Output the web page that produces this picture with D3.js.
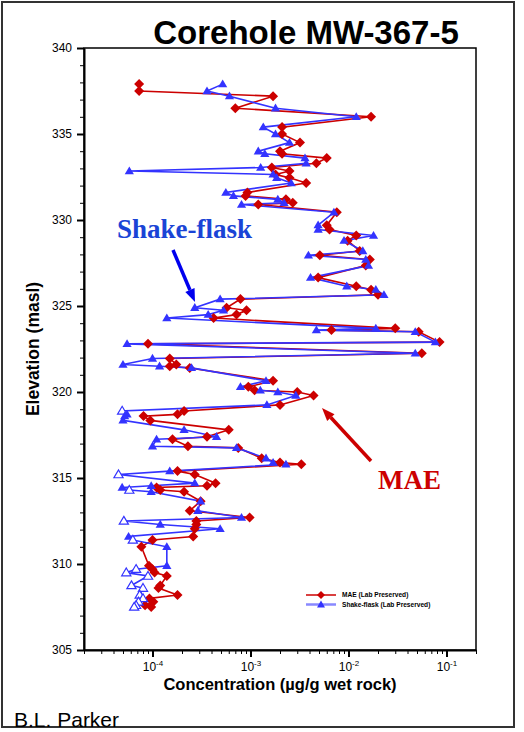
<!DOCTYPE html>
<html>
<head>
<meta charset="utf-8">
<script src="https://cdn.jsdelivr.net/npm/d3@7"></script>
<style>
  body { margin: 0; background: #fff; }
  svg { display: block; }
</style>
</head>
<body>
<div id="chart"></div>
<script>
// sample elevations (masl), top of core to bottom
const elevation = [
  337.9, 337.5, 337.2, 336.5, 336.0, 335.4, 335.0, 334.5, 334.0, 333.85,
  333.6, 333.3, 333.05, 332.85, 332.65, 332.45, 332.15, 331.6, 331.4, 331.2,
  331.0, 330.9, 330.45, 329.7, 329.45, 329.1, 328.8, 328.2, 327.95, 327.7,
  327.35, 326.65, 326.15, 325.95, 325.65, 325.4, 324.9, 324.75, 324.5, 324.3,
  323.7, 323.6, 323.5, 322.9, 322.8, 322.25, 321.95, 321.6, 321.5, 321.4,
  320.65, 320.3, 320.1, 320.0, 319.8, 319.25, 318.9, 318.7, 318.6, 318.35,
  317.8, 317.4, 317.25, 316.85, 316.75, 316.15, 315.9, 315.8, 315.4, 315.2,
  314.7, 314.55, 314.45, 314.3, 314.2, 313.65, 313.1, 312.7, 312.5, 312.3,
  312.05, 311.6, 311.4, 311.0, 309.9, 309.7, 309.5, 309.3, 308.75, 308.6,
  308.2, 308.0, 307.8, 307.6, 307.5
];

// MAE (Lab Preserved), ug/g wet rock
const mae = [
  7.3e-5, 7.3e-5, 1.7e-3, 7.0e-4, 1.7e-2, 2.1e-3, 2.1e-3, 3.2e-3, 2.0e-3, 2.1e-3,
  6.0e-3, 4.7e-3, 1.65e-3, 2.5e-3, 1.8e-3, 2.5e-3, 3.7e-3, 9.3e-4, 8.9e-4, 2.3e-3,
  2.7e-3, 1.2e-3, 7.6e-3, 6.0e-3, 6.4e-3, 1.2e-2, 9.8e-3, 1.3e-2, 5.1e-3, 1.65e-2,
  1.5e-2, 4.9e-3, 1.2e-2, 1.7e-2, 2.0e-2, 7.9e-4, 5.7e-4, 9.1e-4, 7.2e-4, 4.2e-4,
  3.0e-2, 6.7e-3, 5.2e-2, 8.5e-2, 9.0e-5, 5.6e-2, 1.5e-4, 1.75e-4, 1.5e-4, 2.4e-4,
  1.7e-3, 9.5e-4, 1.1e-3, 3.0e-3, 4.4e-3, 2.0e-3, 2.1e-4, 1.8e-4, 8.1e-5, 9.5e-5,
  6.0e-4, 3.6e-4, 1.6e-4, 2.3e-4, 7.5e-4, 1.3e-3, 2.0e-3, 3.3e-3, 1.8e-4, 2.7e-4,
  4.4e-4, 3.6e-4, 1.1e-4, 1.2e-4, 2.1e-4, 3.1e-4, 2.4e-4, 9.8e-4, 2.8e-4, 2.8e-4,
  2.7e-4, 2.6e-4, 1.0e-4, 7.7e-5, 9.2e-5, 1.0e-4, 1.05e-4, 1.4e-4, 1.2e-4, 1.15e-4,
  1.8e-4, 9.3e-5, 1.02e-4, 8.4e-5, 9.7e-5
];

// Shake-flask (Lab Preserved), ug/g wet rock
const shakeFlask = [
  5.2e-4, 3.6e-4, 6.1e-4, 1.8e-3, 1.2e-2, 1.35e-3, 1.8e-3, 2.5e-3, 1.2e-3, 1.4e-3,
  3.6e-3, 3.7e-3, 1.27e-3, 5.8e-5, 1.7e-3, 1.85e-3, 2.6e-3, 5.6e-4, 6.7e-4, 1.9e-3,
  2.2e-3, 8.1e-4, 7.1e-3, 4.9e-3, 4.9e-3, 1.8e-2, 9.0e-3, 1.4e-2, 3.9e-3, 1.5e-2,
  1.6e-2, 4.1e-3, 9.6e-3, 1.9e-2, 2.3e-2, 4.9e-4, 2.7e-4, 5.3e-4, 3.7e-4, 1.4e-4,
  1.9e-2, 4.7e-3, 4.8e-2, 7.7e-2, 5.5e-5, 4.8e-2, 1.0e-4, 5.0e-5, 1.18e-4, 2.5e-4,
  1.44e-3, 7.9e-4, 1.26e-3, 1.9e-3, 2.9e-3, 1.47e-3, 4.9e-5, 5.5e-5, 5.2e-5, 5.0e-5,
  2.1e-4, 4.5e-4, 1.1e-4, 1.0e-4, 7.2e-4, 1.44e-3, 1.7e-3, 2.3e-3, 1.5e-4, 4.5e-5,
  2.7e-4, 9.7e-5, 4.9e-5, 5.8e-5, 9.7e-5, 3.1e-4, 2.9e-4, 8.1e-4, 5.1e-5, 1.2e-4,
  4.9e-4, 5.7e-5, 6.3e-5, 1.4e-4, 1.4e-4, 6.8e-5, 5.4e-5, 9.0e-5, 6.1e-5, 8.0e-5,
  7.4e-5, 8.0e-5, 7.2e-5, 6.8e-5, 6.5e-5
];

// 1 = drawn as open triangle (below detection)
const shakeFlaskND = [
  0,0,0,0,0,0,0,0,0,0, 0,0,0,0,0,0,0,0,0,0,
  0,0,0,0,0,0,0,0,0,0, 0,0,0,0,0,0,0,0,0,0,
  0,0,0,0,0,0,0,0,0,0, 0,0,0,0,0,0,1,0,0,0,
  0,0,0,0,0,0,0,0,0,1, 0,0,0,1,0,0,0,0,1,0,
  0,0,1,0,0,1,1,1,1,1, 1,1,1,1,1
];

const yMajorTicks = [305, 310, 315, 320, 325, 330, 335, 340];
const xMajorTicks = [1e-4, 1e-3, 1e-2, 1e-1];
const xMajorExp = ["-4", "-3", "-2", "-1"];

const seriesNames = ["MAE (Lab Preserved)", "Shake-flask (Lab Preserved)"];

const width = 524, height = 732;
const plot = { left: 84, right: 476, top: 48, bottom: 650 };
const redC = "#cc0000", blueC = "#3333ff";
const sans = "'Liberation Sans', Arial, sans-serif";
const serif = "'Liberation Serif', 'Times New Roman', serif";

const svg = d3.select("#chart").append("svg")
  .attr("width", width)
  .attr("height", height);

// outer frame
svg.append("rect")
  .attr("x", 2).attr("y", 2)
  .attr("width", 512).attr("height", 725)
  .attr("fill", "none").attr("stroke", "#333").attr("stroke-width", 2);

// scales
const x = d3.scaleLog().domain([2e-5, 0.2]).range([plot.left, plot.right]);
const y = d3.scaleLinear().domain([305, 340]).range([plot.bottom, plot.top]);

// plot frame
svg.append("rect")
  .attr("x", plot.left).attr("y", plot.top)
  .attr("width", plot.right - plot.left).attr("height", plot.bottom - plot.top)
  .attr("fill", "none").attr("stroke", "#000").attr("stroke-width", 1.5);

// x minor ticks
const xMinor = svg.append("g")
  .attr("transform", "translate(0," + plot.bottom + ")")
  .call(d3.axisBottom(x).tickValues(x.ticks()).tickSize(4).tickSizeOuter(0).tickFormat(""));
xMinor.select(".domain").remove();

// x major ticks
const xMajor = svg.append("g")
  .attr("transform", "translate(0," + plot.bottom + ")")
  .call(d3.axisBottom(x).tickValues(xMajorTicks).tickSize(7).tickSizeOuter(0).tickFormat(""));
xMajor.select(".domain").attr("stroke-width", 2);
xMajor.selectAll(".tick line").attr("stroke-width", 2);
xMajor.selectAll(".tick").each(function(d, i) {
  const t = d3.select(this).append("text")
    .attr("y", 21)
    .attr("fill", "#000")
    .attr("text-anchor", "middle")
    .style("font-family", sans);
  t.append("tspan").style("font-size", "12px").text("10");
  t.append("tspan").attr("dy", -5).style("font-size", "8px").text(xMajorExp[i]);
});

// y minor ticks
const yMinor = svg.append("g")
  .attr("transform", "translate(" + plot.left + ",0)")
  .call(d3.axisLeft(y).tickValues(d3.range(305, 341, 1)).tickSize(4).tickSizeOuter(0).tickFormat(""));
yMinor.select(".domain").remove();

// y major ticks
const yMajor = svg.append("g")
  .attr("transform", "translate(" + plot.left + ",0)")
  .call(d3.axisLeft(y).tickValues(yMajorTicks).tickSize(7).tickPadding(5).tickSizeOuter(0));
yMajor.select(".domain").attr("stroke-width", 2);
yMajor.selectAll(".tick line").attr("stroke-width", 2);
yMajor.selectAll(".tick text")
  .style("font-family", sans).style("font-size", "12px").attr("fill", "#000");

// data rows
const rows = elevation.map((e, i) => ({ e: e, mae: mae[i], sf: shakeFlask[i], nd: shakeFlaskND[i] }));

const diamond = "M0,-5L5,0L0,5L-5,0Z";
const triangle = "M0,-4.6L4.6,3.2L-4.6,3.2Z";

// MAE
const maeLine = d3.line().x(d => x(d.mae)).y(d => y(d.e));
svg.append("path")
  .datum(rows)
  .attr("d", maeLine)
  .attr("fill", "none")
  .attr("stroke", redC)
  .attr("stroke-width", 1.6);

// Shake-flask
const sfLine = d3.line().x(d => x(d.sf)).y(d => y(d.e));
svg.append("path")
  .datum(rows)
  .attr("d", sfLine)
  .attr("fill", "none")
  .attr("stroke", blueC)
  .attr("stroke-width", 1.6);

svg.append("g")
  .selectAll("path")
  .data(rows)
  .enter()
  .append("path")
  .attr("d", diamond)
  .attr("transform", d => "translate(" + x(d.mae) + "," + y(d.e) + ")")
  .attr("fill", redC);

svg.append("g")
  .selectAll("path")
  .data(rows)
  .enter()
  .append("path")
  .attr("d", triangle)
  .attr("transform", d => "translate(" + x(d.sf) + "," + y(d.e) + ")")
  .attr("fill", d => d.nd ? "#fff" : blueC)
  .attr("stroke", blueC)
  .attr("stroke-width", d => d.nd ? 1.2 : 0);

// title
svg.append("text")
  .attr("x", 306).attr("y", 44)
  .attr("text-anchor", "middle")
  .style("font-family", sans).style("font-weight", "bold").style("font-size", "33px")
  .text("Corehole MW-367-5");

// axis labels
svg.append("text")
  .attr("x", 280).attr("y", 690)
  .attr("text-anchor", "middle")
  .style("font-family", sans).style("font-weight", "bold").style("font-size", "16.5px")
  .text("Concentration (µg/g wet rock)");

svg.append("text")
  .attr("transform", "translate(39," + ((plot.top + plot.bottom) / 2) + ")rotate(-90)")
  .attr("text-anchor", "middle")
  .style("font-family", sans).style("font-weight", "bold").style("font-size", "17.5px")
  .text("Elevation (masl)");

// credit
svg.append("text")
  .attr("x", 14).attr("y", 727)
  .style("font-family", sans).style("font-size", "21px")
  .text("B.L. Parker");

// annotations
function arrow(x1, y1, x2, y2, color) {
  const a = Math.atan2(y2 - y1, x2 - x1);
  const hl = 13, hw = 5;
  const bx = x2 - hl * Math.cos(a), by = y2 - hl * Math.sin(a);
  svg.append("line")
    .attr("x1", x1).attr("y1", y1).attr("x2", bx).attr("y2", by)
    .attr("stroke", color).attr("stroke-width", 3.5);
  svg.append("path")
    .attr("d", "M" + x2 + "," + y2 +
      "L" + (bx + hw * Math.sin(a)) + "," + (by - hw * Math.cos(a)) +
      "L" + (bx - hw * Math.sin(a)) + "," + (by + hw * Math.cos(a)) + "Z")
    .attr("fill", color);
}

svg.append("text")
  .attr("x", 117).attr("y", 238)
  .attr("fill", "#1a44d6")
  .style("font-family", serif).style("font-weight", "bold").style("font-size", "27px")
  .text("Shake-flask");
arrow(173, 250, 195, 302, "#0000ee");

svg.append("text")
  .attr("x", 378).attr("y", 489)
  .attr("fill", redC)
  .style("font-family", serif).style("font-weight", "bold").style("font-size", "27px")
  .text("MAE");
arrow(371, 461, 322, 408, redC);

// legend
const legend = svg.append("g").attr("transform", "translate(306,595)");
legend.append("line").attr("x1", 0).attr("x2", 30).attr("y1", 0).attr("y2", 0)
  .attr("stroke", redC).attr("stroke-width", 1.5);
legend.append("path").attr("d", "M0,-4L4,0L0,4L-4,0Z")
  .attr("transform", "translate(15,0)").attr("fill", redC);
legend.append("line").attr("x1", 0).attr("x2", 30).attr("y1", 9.5).attr("y2", 9.5)
  .attr("stroke", "#8888ff").attr("stroke-width", 2.5);
legend.append("path").attr("d", "M0,-4L4,3L-4,3Z")
  .attr("transform", "translate(15,9.5)").attr("fill", blueC);
legend.selectAll("text.lg")
  .data(seriesNames)
  .enter()
  .append("text")
  .attr("class", "lg")
  .attr("x", 36)
  .attr("y", (d, i) => i * 9.5 + 2.3)
  .style("font-family", sans).style("font-weight", "bold").style("font-size", "6.6px")
  .text(d => d);
</script>
</body>
</html>
